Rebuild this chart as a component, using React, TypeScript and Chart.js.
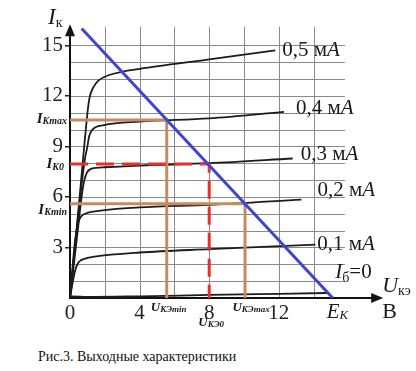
import React, { useEffect, useRef } from "react";
import { Chart, registerables } from "chart.js";

Chart.register(...registerables);

// ---- data (U_КЭ in V, I_К in mA) ----
const xTickValues = [0, 4, 8, 12];
const yTickValues = [3, 6, 9, 12, 15];

const curve05 = [[0, 0], [0.5, 5.4], [0.77, 8.47], [1.05, 11.4], [1.15, 12.0], [1.34, 12.5], [1.63, 12.9], [2.3, 13.25], [3.06, 13.44], [4, 13.6], [8, 14.16], [11.8, 14.7]];
const curve04 = [[0, 0], [0.5, 5.2], [0.85, 8.2], [1.0, 9.0], [1.1, 9.6], [1.28, 9.98], [1.95, 10.26], [4, 10.47], [8, 10.66], [12.3, 11.05]];
const curve03 = [[0, 0], [0.4, 3.6], [0.75, 6.6], [0.95, 7.4], [1.25, 7.68], [2, 7.76], [4, 7.86], [8, 8.0], [12.8, 8.28]];
const curve02 = [[0, 0], [0.29, 3.4], [0.48, 4.5], [0.65, 4.85], [0.86, 5.0], [1.34, 5.13], [4, 5.38], [8, 5.53], [13.3, 5.84]];
const curve01 = [[0, 0], [0.15, 0.9], [0.3, 1.65], [0.45, 2.05], [0.6, 2.22], [1, 2.38], [1.4, 2.46], [4, 2.7], [8, 2.9], [14.1, 3.17]];
const curve00 = [[0, 0], [0.15, 0.1], [1, 0.06], [4, 0.1], [8, 0.18], [12, 0.25], [14.9, 0.3]];

const baseCurrents = ["0,5", "0,4", "0,3", "0,2", "0,1"];
const currentUnit = "мА";

const loadLine = [[0.67, 16.0], [15.1, 0]];
const iKmax = 10.57;
const uKEmin = 5.56;
const iK0 = 7.95;
const uKE0 = 8;
const iKmin = 5.6;
const uKEmax = 10.06;

const SERIF = '"Liberation Serif", "Times New Roman", serif';

type Run = { t: string; f: string; dy?: number };

function drawRuns(ctx: CanvasRenderingContext2D, x: number, y: number, runs: Run[], align: "left" | "right" | "center" = "left") {
  let w = 0;
  for (const r of runs) {
    ctx.font = r.f;
    w += ctx.measureText(r.t).width;
  }
  let cx = align === "right" ? x - w : align === "center" ? x - w / 2 : x;
  ctx.textAlign = "left";
  ctx.textBaseline = "middle";
  for (const r of runs) {
    ctx.font = r.f;
    ctx.fillText(r.t, cx, y + (r.dy || 0));
    cx += ctx.measureText(r.t).width;
  }
}

const toXY = (arr: number[][]) => arr.map(([x, y]) => ({ x, y }));

const decorPlugin = {
  id: "decor",
  beforeDatasetsDraw(chart: any) {
    const { ctx, scales } = chart;
    const X = (v: number) => scales.x.getPixelForValue(v);
    const Y = (v: number) => scales.y.getPixelForValue(v);
    const c = (p: number) => Math.round(p) + 0.5;
    ctx.save();
    // grid
    ctx.strokeStyle = "#8a8a8a";
    ctx.lineWidth = 1;
    ctx.beginPath();
    for (let i = 1; i <= 15; i++) {
      ctx.moveTo(X(0), c(Y(i)));
      ctx.lineTo(X(15.8), c(Y(i)));
    }
    for (let u = 2; u <= 14; u += 2) {
      ctx.moveTo(c(X(u)), Y(0));
      ctx.lineTo(c(X(u)), Y(16.1));
    }
    ctx.stroke();
    // axes
    ctx.strokeStyle = "#111";
    ctx.fillStyle = "#111";
    ctx.lineWidth = 2;
    const x0 = X(0);
    const y0 = Y(0);
    const yTip = Y(16.25);
    const xTip = X(18.0);
    ctx.beginPath();
    ctx.moveTo(x0, y0 + 1);
    ctx.lineTo(x0, yTip + 8);
    ctx.moveTo(x0 - 1, y0);
    ctx.lineTo(xTip - 8, y0);
    ctx.stroke();
    ctx.beginPath();
    ctx.moveTo(x0, yTip);
    ctx.lineTo(x0 - 5, yTip + 12);
    ctx.lineTo(x0 + 5, yTip + 12);
    ctx.closePath();
    ctx.fill();
    ctx.beginPath();
    ctx.moveTo(xTip, y0);
    ctx.lineTo(xTip - 12, y0 - 5);
    ctx.lineTo(xTip - 12, y0 + 5);
    ctx.closePath();
    ctx.fill();
    ctx.restore();
  },
  afterDatasetsDraw(chart: any) {
    const { ctx, scales } = chart;
    const X = (v: number) => scales.x.getPixelForValue(v);
    const Y = (v: number) => scales.y.getPixelForValue(v);
    ctx.save();
    ctx.fillStyle = "#1a1a1a";
    const reg = (s: number) => `${s}px ${SERIF}`;
    const it = (s: number) => `italic ${s}px ${SERIF}`;
    const bi = (s: number) => `italic bold ${s}px ${SERIF}`;

    // curve labels
    const curves = [curve05, curve04, curve03, curve02, curve01];
    const offs = [[7, 0], [12, -3], [8, -4], [16, -9], [2, 0]];
    curves.forEach((cv, k) => {
      const last = cv[cv.length - 1];
      drawRuns(ctx, X(last[0]) + offs[k][0], Y(last[1]) + offs[k][1], [
        { t: baseCurrents[k] + " ", f: reg(21) },
        { t: currentUnit.slice(0, 1), f: reg(21) },
        { t: currentUnit.slice(1), f: it(21) },
      ]);
    });
    const l0 = curve00[curve00.length - 1];
    drawRuns(ctx, X(l0[0]) + 6, Y(l0[1]) - 20, [
      { t: "I", f: it(21) },
      { t: "б", f: reg(14), dy: 5 },
      { t: "=0", f: reg(21) },
    ]);

    // axis titles
    drawRuns(ctx, X(0) - 22, Y(16.25) - 6, [
      { t: "I", f: it(23) },
      { t: "к", f: reg(14), dy: 5 },
    ]);
    drawRuns(ctx, X(18.0) - 1, Y(0) - 12, [
      { t: "U", f: it(22) },
      { t: "кэ", f: reg(14), dy: 5 },
    ]);
    drawRuns(ctx, X(18.0) - 1, Y(0) + 14, [{ t: "В", f: reg(22) }]);
    drawRuns(ctx, X(loadLine[1][0]) - 6, Y(0) + 14, [
      { t: "E", f: it(21) },
      { t: "K", f: it(13), dy: 4 },
    ]);

    // current markers on the y axis
    drawRuns(ctx, X(0) - 3, Y(iKmax) - 1, [
      { t: "I", f: bi(15) },
      { t: "Kmax", f: bi(10), dy: 3 },
    ], "right");
    drawRuns(ctx, X(0) - 6, Y(iK0), [
      { t: "I", f: bi(15) },
      { t: "K0", f: bi(10), dy: 3 },
    ], "right");
    drawRuns(ctx, X(0) - 3, Y(iKmin) + 6, [
      { t: "I", f: bi(15) },
      { t: "Kmin", f: bi(10), dy: 3 },
    ], "right");

    // voltage markers on the x axis
    drawRuns(ctx, X(uKEmin) + 2, Y(0) + 10, [
      { t: "U", f: bi(13) },
      { t: "КЭmin", f: bi(9), dy: 2 },
    ], "center");
    drawRuns(ctx, X(uKEmax) + 6, Y(0) + 10, [
      { t: "U", f: bi(13) },
      { t: "КЭmax", f: bi(9), dy: 2 },
    ], "center");
    drawRuns(ctx, X(uKE0) + 2, Y(0) + 25, [
      { t: "U", f: bi(13) },
      { t: "КЭ0", f: bi(9), dy: 2 },
    ], "center");
    ctx.restore();
  },
};

export default function App() {
  const ref = useRef<HTMLCanvasElement | null>(null);

  useEffect(() => {
    if (!ref.current) return;
    const black = (data: number[][]) => ({
      data: toXY(data),
      borderColor: "#1c1c1c",
      borderWidth: 1.8,
      pointRadius: 0,
      cubicInterpolationMode: "monotone" as const,
      fill: false,
      order: 3,
    });
    const chart = new Chart(ref.current, {
      type: "line",
      data: {
        datasets: [
          {
            data: toXY(loadLine),
            borderColor: "#3e45cf",
            borderWidth: 3,
            pointRadius: 0,
            tension: 0,
            order: 0,
          },
          {
            data: toXY([[0, iK0], [uKE0, iK0], [uKE0, 0]]),
            borderColor: "#e3312b",
            borderWidth: 3,
            borderDash: [18, 8],
            pointRadius: 0,
            tension: 0,
            order: 1,
          },
          {
            data: toXY([[0, iKmax], [uKEmin, iKmax], [uKEmin, 0]]),
            borderColor: "#c58a62",
            borderWidth: 3,
            pointRadius: 0,
            tension: 0,
            order: 2,
          },
          {
            data: toXY([[0, iKmin], [uKEmax, iKmin], [uKEmax, 0]]),
            borderColor: "#c58a62",
            borderWidth: 3,
            pointRadius: 0,
            tension: 0,
            order: 2,
          },
          black(curve05),
          black(curve04),
          black(curve03),
          black(curve02),
          black(curve01),
          black(curve00),
        ] as any,
      },
      options: {
        responsive: false,
        animation: false,
        events: [],
        layout: { padding: { top: 12, right: 25, left: 0, bottom: 0 } },
        plugins: { legend: { display: false }, tooltip: { enabled: false } },
        scales: {
          x: {
            type: "linear",
            min: 0,
            max: 18.45,
            afterFit: (s: any) => {
              s.height = 42;
            },
            afterBuildTicks: (s: any) => {
              s.ticks = xTickValues.map((v) => ({ value: v }));
            },
            grid: { display: false, drawTicks: false },
            border: { display: false },
            ticks: {
              font: { family: SERIF, size: 21 },
              color: "#222",
              padding: 3,
              maxRotation: 0,
              autoSkip: false,
            },
          },
          y: {
            type: "linear",
            min: 0,
            max: 16.82,
            afterFit: (s: any) => {
              s.width = 70;
            },
            afterBuildTicks: (s: any) => {
              s.ticks = yTickValues.map((v) => ({ value: v }));
            },
            grid: {
              display: true,
              drawOnChartArea: false,
              drawTicks: true,
              tickLength: 5,
              color: "#222",
              lineWidth: 1.5,
            },
            border: { display: false },
            ticks: {
              font: { family: SERIF, size: 21 },
              color: "#222",
              padding: 2,
              autoSkip: false,
            },
          },
        },
      } as any,
      plugins: [decorPlugin],
    });
    return () => chart.destroy();
  }, []);

  return (
    <div style={{ position: "absolute", left: 0, top: 0, width: 416, height: 371, background: "#fff" }}>
      <canvas
        ref={ref}
        width={416}
        height={340}
        style={{ position: "absolute", left: 0, top: 0, width: 416, height: 340 }}
      />
      <div
        style={{
          position: "absolute",
          left: 38,
          top: 349,
          font: `14px ${SERIF}`,
          color: "#111",
          whiteSpace: "nowrap",
        }}
      >
        Рис.3. Выходные характеристики
      </div>
    </div>
  );
}
